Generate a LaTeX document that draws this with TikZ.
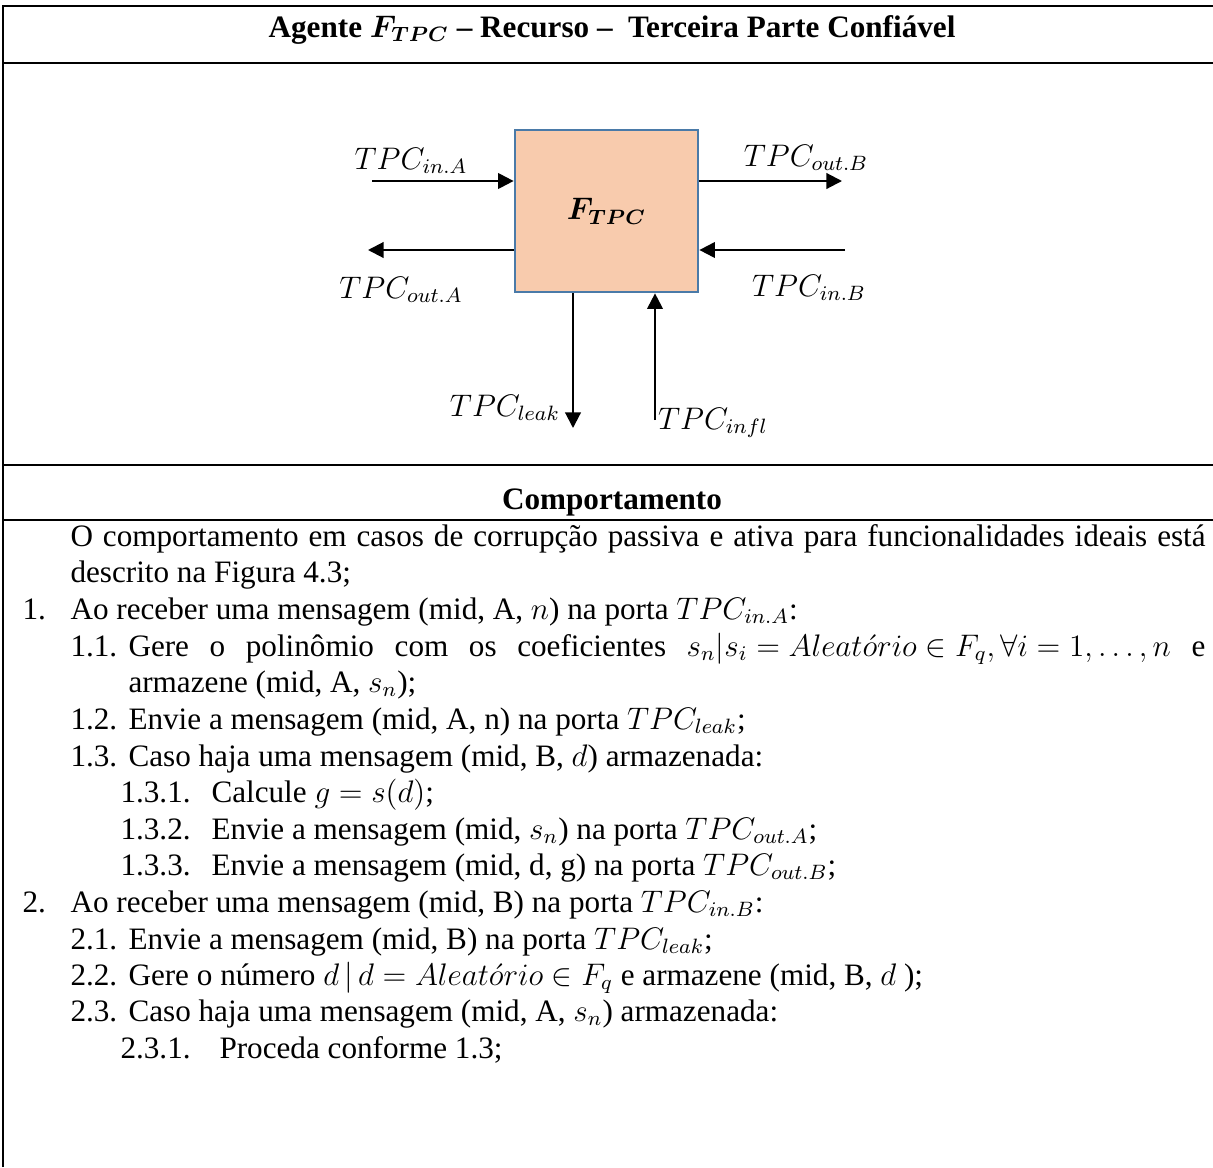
\documentclass[tikz,border=0pt]{standalone}
\usepackage{fontspec}
\setmainfont{Liberation Serif}
\usepackage{bm}
\usetikzlibrary{arrows.meta}
\definecolor{boxfill}{RGB}{248,203,173}
\definecolor{boxline}{RGB}{74,122,168}
\begin{document}
\begin{tikzpicture}[x=0.385pt,y=-0.385pt,
  rule/.style={line width=1pt},
  txt/.style={anchor=base west,inner sep=0pt,font=\fontsize{12}{14}\selectfont},
  hdr/.style={anchor=base,inner sep=0pt,font=\fontsize{12}{14}\selectfont\bfseries},
  port/.style={inner sep=0pt,font=\fontsize{12}{14}\selectfont},
  arr/.style={line width=0.8pt,-{Triangle[length=6pt,width=6pt]}},
  func/.style={draw=boxline,fill=boxfill,line width=1pt,minimum width=70.5pt,minimum height=62.4pt,inner sep=0pt,font=\fontsize{12}{14}\selectfont}]
\useasboundingbox (0,0) rectangle (1213,1167);
% table rules
\draw[rule] (3,1167) -- (3,6) -- (1213,6);
\draw[rule] (3,63) -- (1213,63);
\draw[rule] (3,465) -- (1213,465);
\draw[rule] (3,520) -- (1213,520);
% headers
\node[hdr] (title) at (612,37) {Agente $\bm{F_{TPC}}$ -- Recurso -- \ Terceira Parte Confiável};
\node[hdr] (comp) at (612,509) {Comportamento};
% functionality box
\node[func] (F) at (606.5,211) {$\bm{F_{TPC}}$};
\coordinate (inA) at (372,181);
\coordinate (outB) at (842,181);
\coordinate (outA) at (368,250);
\coordinate (inB) at (845,250);
\coordinate (leak) at (573,428);
\coordinate (infl) at (655,420);
\draw[arr] (inA) -- (inA -| F.west);
\draw[arr] (outB -| F.east) -- (outB);
\draw[arr] (outA -| F.west) -- (outA);
\draw[arr] (inB) -- (inB -| F.east);
\draw[arr] (leak |- F.south) -- (leak);
\draw[arr] (infl) -- (infl |- F.south);
\node[port] (linA) at (411,161) {$TPC_{in.A}$};
\node[port] (loutB) at (806,158) {$TPC_{out.B}$};
\node[port] (loutA) at (401,290) {$TPC_{out.A}$};
\node[port] (linB) at (809,288) {$TPC_{in.B}$};
\node[port] (lleak) at (505,408) {$TPC_{leak}$};
\node[port] (linfl) at (713,423) {$TPC_{infl}$};
% behaviour text
\node[txt] (l1) at (70,546) {\makebox[437pt][s]{O comportamento em casos de corrupção passiva e ativa para funcionalidades ideais está}};
\node[txt] (l2) at (70,582) {descrito na Figura 4.3;};
\node[txt] (n3) at (22,619) {1.};
\node[txt] (l3) at (70,619) {Ao receber uma mensagem (mid, A, $n$) na porta $TPC_{in.A}$:};
\node[txt] (n4) at (70,656) {1.1.};
\node[txt] (l4) at (128,656) {\makebox[414.6pt][s]{Gere o polinômio com os coeficientes \mbox{$s_n|s_i = Aleat\acute{o}rio \in F_q, \forall i = 1, \ldots, n$} e}};
\node[txt] (l5) at (128,692) {armazene (mid, A, $s_n$);};
\node[txt] (n6) at (70,729) {1.2.};
\node[txt] (l6) at (128,729) {Envie a mensagem (mid, A, n) na porta $TPC_{leak}$;};
\node[txt] (n7) at (70,766) {1.3.};
\node[txt] (l7) at (128,766) {Caso haja uma mensagem (mid, B, $d$) armazenada:};
\node[txt] (n8) at (120,802) {1.3.1.};
\node[txt] (l8) at (211,802) {Calcule $g = s(d)$;};
\node[txt] (n9) at (120,839) {1.3.2.};
\node[txt] (l9) at (211,839) {Envie a mensagem (mid, $s_n$) na porta $TPC_{out.A}$;};
\node[txt] (n10) at (120,875) {1.3.3.};
\node[txt] (l10) at (211,875) {Envie a mensagem (mid, d, g) na porta $TPC_{out.B}$;};
\node[txt] (n11) at (22,912) {2.};
\node[txt] (l11) at (70,912) {Ao receber uma mensagem (mid, B) na porta $TPC_{in.B}$:};
\node[txt] (n12) at (70,949) {2.1.};
\node[txt] (l12) at (128,949) {Envie a mensagem (mid, B) na porta $TPC_{leak}$;};
\node[txt] (n13) at (70,985) {2.2.};
\node[txt] (l13) at (128,985) {Gere o número $d\,|\,d = Aleat\acute{o}rio \in F_q$ e armazene (mid, B, $d$ );};
\node[txt] (n14) at (70,1021) {2.3.};
\node[txt] (l14) at (128,1021) {Caso haja uma mensagem (mid, A, $s_n$) armazenada:};
\node[txt] (n15) at (120,1058) {2.3.1.};
\node[txt] (l15) at (219,1058) {Proceda conforme 1.3;};
\end{tikzpicture}
\end{document}
